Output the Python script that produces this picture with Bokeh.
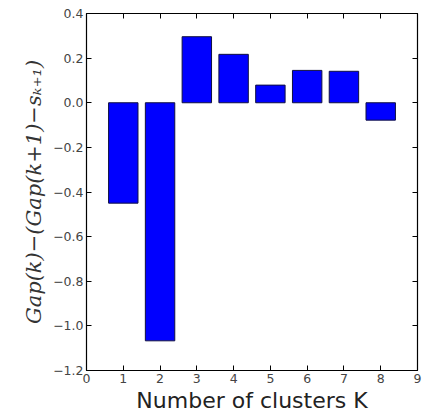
from bokeh.plotting import figure
from bokeh.models import LinearAxis, FixedTicker, Range1d
from bokeh.embed import file_html
from bokeh.resources import INLINE

ks = [1, 2, 3, 4, 5, 6, 7, 8]
gaps = [-0.45, -1.067, 0.296, 0.217, 0.079, 0.145, 0.141, -0.078]
xticks = [0, 1, 2, 3, 4, 5, 6, 7, 8, 9]
yticks = [-1.2, -1.0, -0.8, -0.6, -0.4, -0.2, 0.0, 0.2, 0.4]

p = figure(frame_width=331, frame_height=357, output_backend="svg", toolbar_location=None,
           x_range=Range1d(0, 9), y_range=Range1d(-1.2, 0.4),
           min_border_left=86, min_border_right=9, min_border_top=13, min_border_bottom=28)
p.vbar(x=ks, top=gaps, bottom=0, width=0.8, fill_color="#0000ff", line_color="#101040", line_width=1)

p.grid.visible = False
p.outline_line_color = "black"
p.outline_line_width = 1.2

for ax in [p.xaxis[0], p.yaxis[0]]:
    ax.major_tick_in = 5
    ax.major_tick_out = 0
    ax.minor_tick_line_color = None
    ax.axis_line_color = None
    ax.major_label_text_font = "DejaVu Sans"
    ax.major_label_text_font_size = "12.5px"
    ax.major_label_text_color = "#444444"
    ax.major_label_standoff = 3

p.xaxis[0].ticker = FixedTicker(ticks=xticks)
p.yaxis[0].ticker = FixedTicker(ticks=yticks)
p.yaxis[0].major_label_overrides = {-1.2: "\u22121.2", -1.0: "\u22121.0", -0.8: "\u22120.8", -0.6: "\u22120.6",
                                     -0.4: "\u22120.4", -0.2: "\u22120.2", 0.0: "0.0", 0.2: "0.2", 0.4: "0.4"}

p.xaxis[0].axis_label = "Number of clusters K"
p.xaxis[0].axis_label_text_font = "DejaVu Sans"
p.xaxis[0].axis_label_text_font_style = "normal"
p.xaxis[0].axis_label_text_font_size = "22px"
p.xaxis[0].axis_label_text_color = "#222222"
p.xaxis[0].axis_label_standoff = 2

p.yaxis[0].axis_label = "Gap(k)\u2212(Gap(k+1)\u2212s\u2096\u208a\u2081)"
p.yaxis[0].axis_label_text_font = "DejaVu Serif"
p.yaxis[0].axis_label_text_font_style = "italic"
p.yaxis[0].axis_label_text_font_size = "21px"
p.yaxis[0].axis_label_text_color = "#333333"
p.yaxis[0].axis_label_standoff = 4

for loc in ["right", "above"]:
    ax = LinearAxis(ticker=FixedTicker(ticks=yticks if loc == "right" else xticks))
    ax.major_tick_in = 5
    ax.major_tick_out = 0
    ax.minor_tick_line_color = None
    ax.axis_line_color = None
    ax.major_label_text_font_size = "0px"
    ax.major_label_text_color = None
    ax.major_label_standoff = 0
    p.add_layout(ax, loc)

open("out.html", "w").write(file_html(p, INLINE))
